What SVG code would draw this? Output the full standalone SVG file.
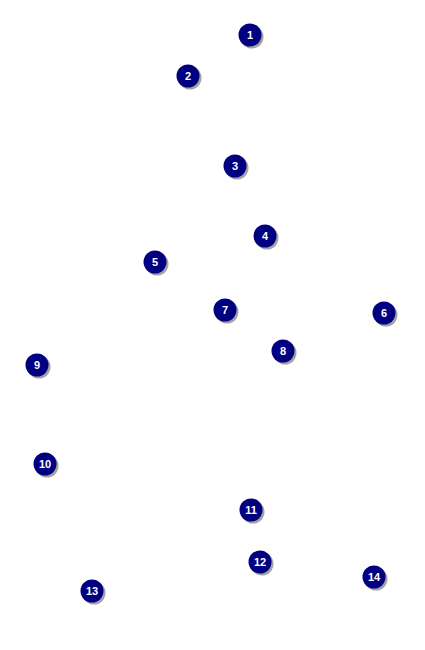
<svg xmlns="http://www.w3.org/2000/svg" width="425" height="650" viewBox="0 0 425 650">
<style>
.sh{fill:#8c8c8c;opacity:0.8}
.c{fill:#000080}
.t{fill:#fff;font-family:"Liberation Sans",Arial,sans-serif;font-weight:bold;font-size:11px;text-anchor:middle}
</style>
<defs>
<g id="b"><circle class="sh" cx="2" cy="2" r="11.5"/><circle class="c" r="11.5"/></g>
</defs>
<rect width="425" height="650" fill="#fff"/>
<g id="connectors"></g>
<g id="n1" transform="translate(250,35)"><use href="#b"/><text class="t" y="4">1</text></g>
<g id="n2" transform="translate(188,76)"><use href="#b"/><text class="t" y="4">2</text></g>
<g id="n3" transform="translate(235,166)"><use href="#b"/><text class="t" y="4">3</text></g>
<g id="n4" transform="translate(265,236)"><use href="#b"/><text class="t" y="4">4</text></g>
<g id="n5" transform="translate(155,262)"><use href="#b"/><text class="t" y="4">5</text></g>
<g id="n6" transform="translate(384,313)"><use href="#b"/><text class="t" y="4">6</text></g>
<g id="n7" transform="translate(225,310)"><use href="#b"/><text class="t" y="4">7</text></g>
<g id="n8" transform="translate(283,351)"><use href="#b"/><text class="t" y="4">8</text></g>
<g id="n9" transform="translate(37,365)"><use href="#b"/><text class="t" y="4">9</text></g>
<g id="n10" transform="translate(45,464)"><use href="#b"/><text class="t" y="4">10</text></g>
<g id="n11" transform="translate(251,510)"><use href="#b"/><text class="t" y="4">11</text></g>
<g id="n12" transform="translate(260,562)"><use href="#b"/><text class="t" y="4">12</text></g>
<g id="n13" transform="translate(92,591)"><use href="#b"/><text class="t" y="4">13</text></g>
<g id="n14" transform="translate(374,577)"><use href="#b"/><text class="t" y="4">14</text></g>
</svg>
